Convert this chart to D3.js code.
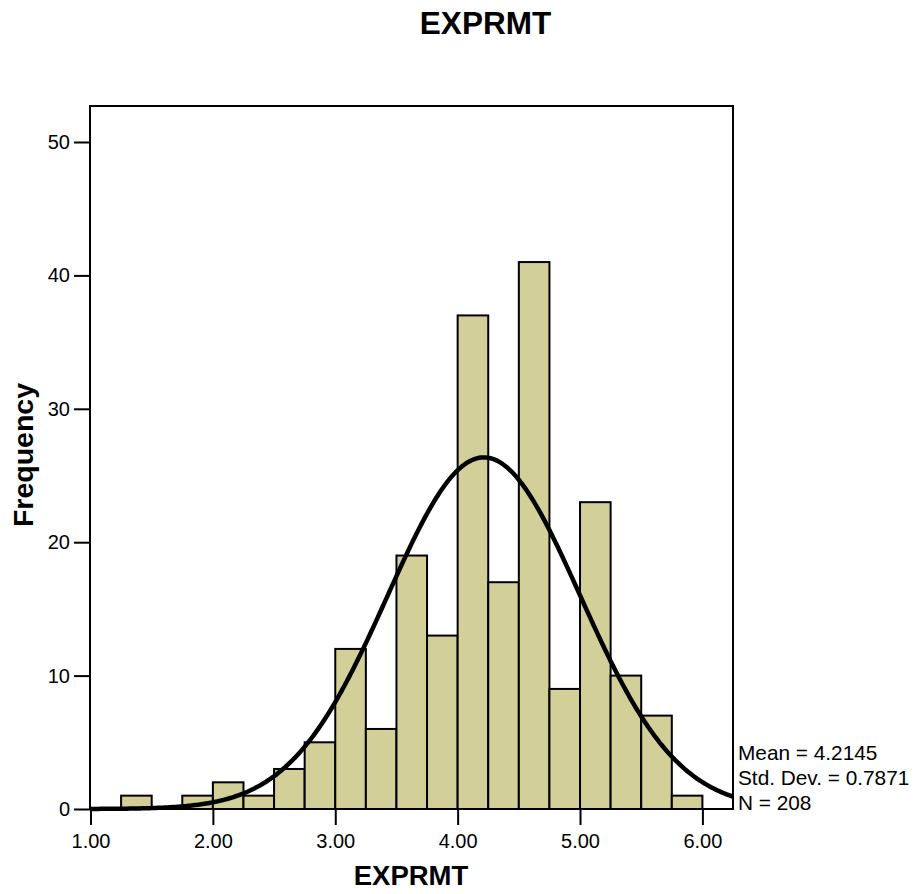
<!DOCTYPE html>
<html>
<head>
<meta charset="utf-8">
<script src="https://cdn.jsdelivr.net/npm/d3@7/dist/d3.min.js"></script>
<style>
  html, body { margin: 0; padding: 0; background: #fff; }
  svg { display: block; font-family: "Liberation Sans", Arial, Helvetica, sans-serif; }
</style>
</head>
<body>
<svg id="chart" width="916" height="894"></svg>
<script>
// Histogram bins (lower edges, width 0.25) and frequencies
const binStarts = [1.25, 1.50, 1.75, 2.00, 2.25, 2.50, 2.75, 3.00, 3.25, 3.50, 3.75, 4.00, 4.25, 4.50, 4.75, 5.00, 5.25, 5.50, 5.75];
const counts    = [1,    0,    1,    2,    1,    3,    5,    12,   6,    19,   13,   37,   17,   41,   9,    23,   10,   7,    1];
const binWidth = 0.25;

// Summary statistics shown beside the plot
const mean = 4.2145;
const stdDev = 0.7871;
const n = 208;
const statLines = ["Mean = 4.2145", "Std. Dev. = 0.7871", "N = 208"];

const xTicks = [1, 2, 3, 4, 5, 6];
const yTicks = [0, 10, 20, 30, 40, 50];
const title = "EXPRMT";
const xLabel = "EXPRMT";
const yLabel = "Frequency";

const svg = d3.select("#chart");
const frame = { left: 90, right: 733, top: 106, bottom: 809 };

const x = d3.scaleLinear().domain([1, 6.25]).range([90.5, frame.right]);
const y = d3.scaleLinear().domain([0, 50]).range([frame.bottom, 142]);

// Title
svg.append("text")
  .attr("x", 485.5).attr("y", 34)
  .attr("text-anchor", "middle")
  .attr("font-size", 31.5).attr("font-weight", "bold")
  .text(title);

// Bars
svg.append("g").selectAll("rect")
  .data(binStarts.map((s, i) => ({ s, c: counts[i] })).filter(d => d.c > 0))
  .join("rect")
  .attr("x", d => x(d.s))
  .attr("width", d => x(d.s + binWidth) - x(d.s))
  .attr("y", d => y(d.c))
  .attr("height", d => y(0) - y(d.c))
  .attr("fill", "#d3cf98")
  .attr("stroke", "#000")
  .attr("stroke-width", 2);

// Normal curve scaled to the histogram: N * binWidth * pdf
const pdf = v => Math.exp(-0.5 * ((v - mean) / stdDev) ** 2) / (stdDev * Math.sqrt(2 * Math.PI));
const curvePts = d3.range(0, 401).map(i => {
  const v = 1 + (6.25 - 1) * i / 400;
  return [v, n * binWidth * pdf(v)];
});
svg.append("path")
  .datum(curvePts)
  .attr("fill", "none")
  .attr("stroke", "#000")
  .attr("stroke-width", 4.5)
  .attr("d", d3.line().x(d => x(d[0])).y(d => y(d[1])));

// Plot frame
svg.append("rect")
  .attr("x", frame.left).attr("y", frame.top)
  .attr("width", frame.right - frame.left)
  .attr("height", frame.bottom - frame.top)
  .attr("fill", "none")
  .attr("stroke", "#000")
  .attr("stroke-width", 2);

// Axes
const yAxis = svg.append("g")
  .attr("transform", `translate(${frame.left},0)`)
  .call(d3.axisLeft(y).tickValues(yTicks).tickSize(16).tickPadding(4).tickFormat(d3.format("d")));
const xAxis = svg.append("g")
  .attr("transform", `translate(0,${frame.bottom})`)
  .call(d3.axisBottom(x).tickValues(xTicks).tickSize(16).tickPadding(9).tickFormat(d3.format(".2f")));

[yAxis, xAxis].forEach(g => {
  g.select(".domain").remove();
  g.selectAll(".tick line").attr("stroke", "#000").attr("stroke-width", 2);
  g.selectAll(".tick text")
    .attr("fill", "#000")
    .attr("font-size", 20)
    .attr("font-family", "'Liberation Sans', Arial, Helvetica, sans-serif");
});

// Axis titles
svg.append("text")
  .attr("x", 411).attr("y", 885)
  .attr("text-anchor", "middle")
  .attr("font-size", 27.5).attr("font-weight", "bold")
  .text(xLabel);

svg.append("text")
  .attr("transform", "translate(33,455) rotate(-90)")
  .attr("text-anchor", "middle")
  .attr("font-size", 28.5).attr("font-weight", "bold")
  .text(yLabel);

// Statistics block
svg.append("g").selectAll("text")
  .data(statLines)
  .join("text")
  .attr("x", 738)
  .attr("y", (d, i) => 760 + i * 25)
  .attr("font-size", 20.8)
  .text(d => d);
</script>
</body>
</html>
